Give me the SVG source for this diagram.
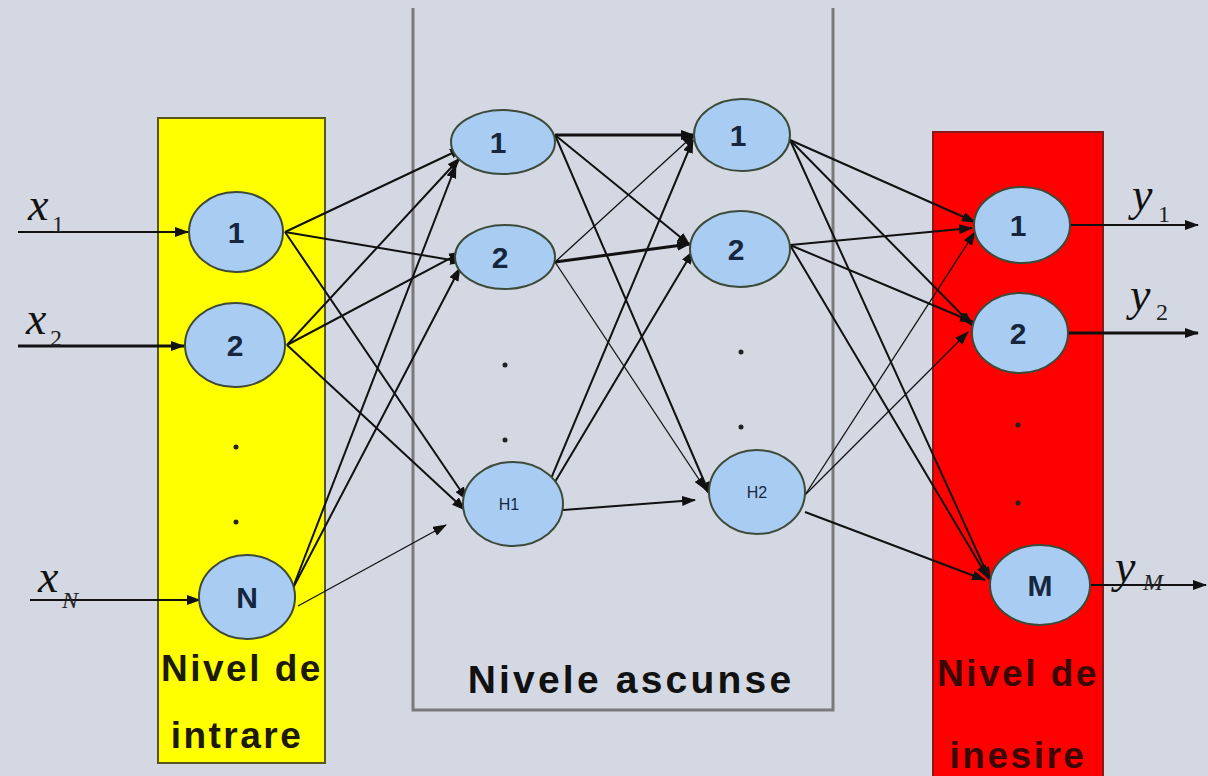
<svg xmlns="http://www.w3.org/2000/svg" width="1208" height="776" viewBox="0 0 1208 776">
<defs>
<marker id="ah" markerUnits="userSpaceOnUse" markerWidth="14" markerHeight="10" refX="13" refY="5" orient="auto">
<path d="M0,0 L14,5 L0,10 z" fill="#111"/>
</marker>
</defs>
<style>
.node{fill:#a9cdf2;stroke:#3d4a3a;stroke-width:2}
.nt{font-family:"Liberation Sans",Arial,sans-serif;font-weight:bold;font-size:30px;fill:#16263e;text-anchor:middle}
.ns{font-family:"Liberation Sans",Arial,sans-serif;font-size:16px;fill:#16263e;text-anchor:middle}
.dot{fill:#222}
.c{stroke:#111;stroke-width:2;fill:none;marker-end:url(#ah)}
.thin{stroke-width:1.3}
.thick{stroke-width:3}
.var{font-family:"Liberation Serif","Times New Roman",serif;font-style:italic;font-size:46px;fill:#111}
.sub{font-family:"Liberation Serif","Times New Roman",serif;font-size:24px;fill:#222}
.lbl{font-family:"Liberation Sans",Arial,sans-serif;font-weight:bold;font-size:37px;letter-spacing:2.5px;text-anchor:middle}
</style>
<rect width="1208" height="776" fill="#d3d8e2"/>

<g id="input-layer">
<rect x="158" y="118" width="167" height="645" fill="#ffff00" stroke="#5a5420" stroke-width="2"/>
<text class="lbl" x="242" y="681" fill="#1c1a08">Nivel de</text>
<text class="lbl" x="237" y="748" fill="#1c1a08">intrare</text>
<circle class="dot" cx="236" cy="447" r="2.5"/>
<circle class="dot" cx="236" cy="522" r="2.5"/>
</g>

<g id="hidden-layers">
<path d="M413,8 V710 H833 V8" fill="none" stroke="#7a7a7a" stroke-width="3"/>
<text x="631" y="693" font-family="Liberation Sans,Arial,sans-serif" font-weight="bold" font-size="39" letter-spacing="3.2" fill="#111" text-anchor="middle">Nivele ascunse</text>
<circle class="dot" cx="505" cy="365" r="2.5"/>
<circle class="dot" cx="505" cy="440" r="2.5"/>
<circle class="dot" cx="741" cy="352" r="2.5"/>
<circle class="dot" cx="741" cy="427" r="2.5"/>
</g>

<g id="output-layer">
<rect x="933" y="132" width="170" height="660" fill="#ff0000" stroke="#8a1a1a" stroke-width="2"/>
<text class="lbl" x="1018" y="686" fill="#3a0606">Nivel de</text>
<text class="lbl" x="1018" y="768" fill="#3a0606">inesire</text>
<circle class="dot" cx="1018" cy="425" r="2.5" fill="#a01010"/>
<circle class="dot" cx="1018" cy="503" r="2.5" fill="#a01010"/>
</g>

<g id="connectors">
<line class="c" x1="18" y1="232" x2="188" y2="232"/>
<line class="c thick" x1="18" y1="346" x2="184" y2="346"/>
<line class="c" x1="30" y1="600" x2="200" y2="600"/>
<line class="c" x1="285" y1="232" x2="463" y2="148"/>
<line class="c" x1="285" y1="232" x2="463" y2="262"/>
<line class="c" x1="285" y1="232" x2="467" y2="500"/>
<line class="c" x1="287" y1="345" x2="460" y2="158"/>
<line class="c" x1="287" y1="345" x2="462" y2="252"/>
<line class="c" x1="287" y1="345" x2="465" y2="510"/>
<line class="c" x1="292" y1="590" x2="456" y2="165"/>
<line class="c" x1="292" y1="590" x2="460" y2="268"/>
<line class="c thin" x1="298" y1="606" x2="446" y2="525"/>
<line class="c thick" x1="555" y1="135" x2="694" y2="135"/>
<line class="c" x1="555" y1="135" x2="690" y2="245"/>
<line class="c" x1="555" y1="135" x2="710" y2="495"/>
<line class="c thin" x1="555" y1="262" x2="695" y2="134"/>
<line class="c thick" x1="555" y1="262" x2="690" y2="244"/>
<line class="c thin" x1="555" y1="262" x2="706" y2="490"/>
<line class="c" x1="537" y1="512" x2="693" y2="140"/>
<line class="c" x1="537" y1="512" x2="693" y2="251"/>
<line class="c" x1="537" y1="512" x2="695" y2="500"/>
<line class="c" x1="790" y1="140" x2="975" y2="222"/>
<line class="c" x1="790" y1="140" x2="972" y2="325"/>
<line class="c" x1="790" y1="140" x2="990" y2="580"/>
<line class="c" x1="790" y1="245" x2="972" y2="228"/>
<line class="c" x1="790" y1="245" x2="973" y2="322"/>
<line class="c" x1="790" y1="245" x2="988" y2="578"/>
<line class="c thin" x1="805" y1="495" x2="975" y2="232"/>
<line class="c thin" x1="805" y1="495" x2="968" y2="332"/>
<line class="c" x1="805" y1="512" x2="985" y2="580"/>
<line class="c" x1="1070" y1="225" x2="1198" y2="225"/>
<line class="c thick" x1="1068" y1="333" x2="1198" y2="333"/>
<line class="c" x1="1090" y1="585" x2="1206" y2="585"/>
</g>

<g id="in1"><ellipse class="node" cx="236" cy="232" rx="47" ry="40"/><text class="nt" x="236" y="243">1</text></g>
<g id="in2"><ellipse class="node" cx="235" cy="345" rx="50" ry="42"/><text class="nt" x="235" y="356">2</text></g>
<g id="inN"><ellipse class="node" cx="247" cy="597" rx="48" ry="42"/><text class="nt" x="247" y="608">N</text></g>

<g id="h1-1"><ellipse class="node" cx="503" cy="142" rx="52" ry="32"/><text class="nt" x="498" y="153">1</text></g>
<g id="h1-2"><ellipse class="node" cx="505" cy="257" rx="50" ry="32"/><text class="nt" x="500" y="268">2</text></g>
<g id="h1-H1"><ellipse class="node" cx="513" cy="504" rx="50" ry="42"/><text class="ns" x="509" y="510">H1</text></g>

<g id="h2-1"><ellipse class="node" cx="742" cy="135" rx="48" ry="36"/><text class="nt" x="738" y="146">1</text></g>
<g id="h2-2"><ellipse class="node" cx="740" cy="249" rx="50" ry="38"/><text class="nt" x="736" y="260">2</text></g>
<g id="h2-H2"><ellipse class="node" cx="757" cy="492" rx="48" ry="42"/><text class="ns" x="757" y="498">H2</text></g>

<g id="out1"><ellipse class="node" cx="1022" cy="225" rx="48" ry="38"/><text class="nt" x="1018" y="236">1</text></g>
<g id="out2"><ellipse class="node" cx="1020" cy="333" rx="48" ry="40"/><text class="nt" x="1018" y="344">2</text></g>
<g id="outM"><ellipse class="node" cx="1040" cy="585" rx="50" ry="40"/><text class="nt" x="1040" y="596">M</text></g>

<g id="labels">
<text class="var" x="28" y="220">x</text><text class="sub" x="52" y="232">1</text>
<text class="var" x="26" y="334">x</text><text class="sub" x="50" y="346">2</text>
<text class="var" x="38" y="592">x</text><text class="sub" x="62" y="608" font-style="italic">N</text>
<text class="var" x="1132" y="210">y</text><text class="sub" x="1158" y="222">1</text>
<text class="var" x="1130" y="310">y</text><text class="sub" x="1156" y="320">2</text>
<text class="var" x="1115" y="582" font-size="50">y</text><text class="sub" x="1143" y="590" font-style="italic" font-size="30">M</text>
</g>
</svg>
